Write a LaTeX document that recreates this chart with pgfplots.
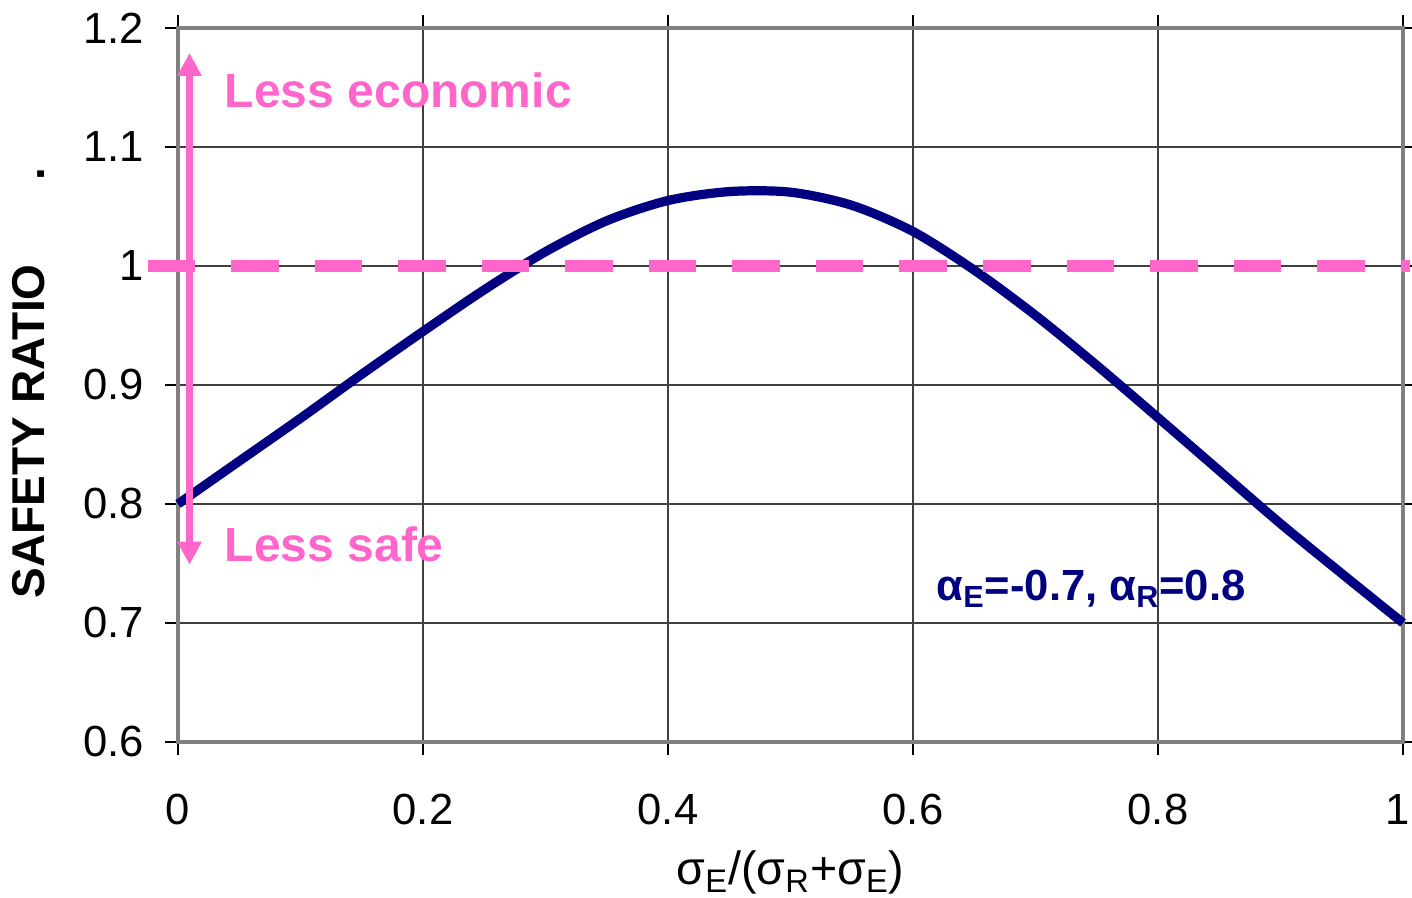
\documentclass[border=0pt]{standalone}
\usepackage{fontspec}
\setmainfont{Liberation Sans}
\usepackage{pgfplots}
\pgfplotsset{compat=1.18}
\usetikzlibrary{arrows.meta}
\definecolor{navyc}{HTML}{000080}
\definecolor{pinkc}{HTML}{FF66CC}
\begin{document}
\begin{tikzpicture}
\begin{axis}[
  name=ax,
  width=612.5pt, height=357pt, scale only axis,
  xmin=0, xmax=1, ymin=0.6, ymax=1.2,
  xtick={0,0.2,0.4,0.6,0.8,1},
  xticklabels={0,0.2,0.4,0.6,0.8,\kern-5pt 1},
  ytick={0.6,0.7,0.8,0.9,1,1.1,1.2},
  grid=major,
  grid style={black!75, line width=0.6pt},
  axis line style={black!50, line width=1.8pt},
  tick style={black, line width=0.6pt},
  tick align=outside, major tick length=6.5pt,
  /pgf/number format/assume math mode=true,
  /pgf/number format/fixed,
  ticklabel style={font=\fontsize{21.8}{24}\selectfont},
  xticklabel style={yshift=-16pt},
  yticklabel style={xshift=-7pt},
  xlabel={σ\textsubscript{E}/(σ\textsubscript{R}+σ\textsubscript{E})},
  xlabel style={font=\fontsize{23.3}{26}\selectfont, at={(axis description cs:0.5,-0.2003)}, anchor=base},
  ylabel={\bfseries SAFETY RATIO\hspace{42pt}.},
  ylabel style={font=\fontsize{23}{26}\selectfont, at={(axis description cs:-0.122,0.503)}, anchor=center, rotate=0},
  clip=false,
]
\addplot[navyc, line width=4.6pt, smooth] coordinates {
(0,0.800) (0.05,0.836) (0.1,0.872) (0.15,0.909) (0.2,0.945) (0.25,0.980)
(0.3,1.012) (0.35,1.038) (0.4,1.055) (0.45,1.0625) (0.5,1.0620)
(0.55,1.051) (0.6,1.029) (0.65,0.9965) (0.7,0.9585) (0.75,0.9165) (0.8,0.8725)
(0.85,0.828) (0.9,0.7835) (0.95,0.7415) (1,0.700)
};
\addplot[pinkc, line width=5.8pt, dash pattern=on 23.75pt off 18pt] coordinates {(-0.0245,1) (1.0057,1)};
\addplot[pinkc, line width=3.8pt, {Triangle[width=11.5pt,length=11.5pt]}-{Triangle[width=11.5pt,length=11.5pt]}] coordinates {(0.0094,0.749) (0.0094,1.179)};
\node[anchor=base west, inner sep=0pt, text=pinkc, font=\fontsize{24}{26}\selectfont\bfseries] at (axis cs:0.038,1.1328) {Less economic};
\node[anchor=base west, inner sep=0pt, text=pinkc, font=\fontsize{24}{26}\selectfont\bfseries] at (axis cs:0.038,0.7513) {Less safe};
\node[anchor=base west, inner sep=0pt, text=navyc, font=\fontsize{21.8}{24}\selectfont\bfseries] at (axis cs:0.619,0.719) {α\textsubscript{E}=-0.7, α\textsubscript{R}=0.8};
\end{axis}
\pgfresetboundingbox
\path ([shift={(-89pt,-78pt)}]ax.south west) rectangle ([shift={(4.5pt,14pt)}]ax.north east);
\end{tikzpicture}
\end{document}
